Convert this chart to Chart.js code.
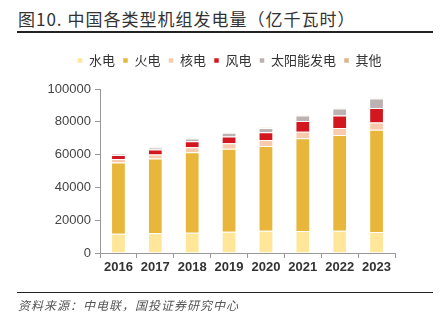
<!DOCTYPE html>
<html>
<head>
<meta charset="utf-8">
<script src="https://cdn.jsdelivr.net/npm/chart.js@4"></script>
<style>
  body { margin: 0; width: 441px; height: 325px; background: #fff; position: relative; overflow: hidden; font-family: "Noto Sans CJK SC", sans-serif; }
  #title { position: absolute; left: 18px; top: 6px; font-size: 17px; color: #333; letter-spacing: 1px; }
  #topline { position: absolute; left: 17px; top: 31px; width: 416px; height: 2px; background: #222; }
  #botline { position: absolute; left: 17px; top: 292px; width: 416px; height: 1px; background: #222; }
  #source { position: absolute; left: 18px; top: 296px; font-size: 12px; color: #555; font-style: italic; letter-spacing: 1px; }
  #wrap { position: absolute; left: 0; top: 0; width: 441px; height: 325px; }
</style>
</head>
<body>
<div id="title">图10. 中国各类型机组发电量（亿千瓦时）</div>
<div id="topline"></div>
<div id="wrap"><canvas id="chart" width="441" height="325"></canvas></div>
<div id="botline"></div>
<div id="source">资料来源：中电联，国投证券研究中心</div>
<script>
// 数据（亿千瓦时）
const years = ["2016", "2017", "2018", "2019", "2020", "2021", "2022", "2023"];
const hydro   = [11750, 12000, 12300, 13000, 13550, 13400, 13500, 12850];
const thermal = [43500, 45600, 49200, 50500, 51700, 56500, 58500, 62300];
const nuclear = [2130, 2480, 2950, 3480, 3660, 4080, 4180, 4350];
const wind    = [2410, 3050, 3660, 4060, 4670, 6560, 7630, 8860];
const solar   = [660, 1100, 1770, 2240, 2610, 3270, 4280, 5830];
const other   = [200, 200, 250, 250, 300, 300, 300, 350];
const yTicks  = [0, 20000, 40000, 60000, 80000, 100000];

// 图例整体右移、上移
const legendShift = {
  id: 'legendShift',
  afterLayout(chart) {
    const lg = chart.legend;
    lg.left += 32; lg.right += 32;
    lg.top -= 12; lg.bottom -= 12;
  }
};

document.addEventListener("DOMContentLoaded", function () {
  const ctx = document.getElementById('chart').getContext('2d');
  const edge = 'rgba(255,255,255,0.5)';
  function ds(label, data, color) {
    return { label: label, data: data, backgroundColor: color, borderColor: edge, borderWidth: 1,
             barPercentage: 0.8, categoryPercentage: 0.5 };
  }
  new Chart(ctx, {
    type: 'bar',
    data: {
      labels: years,
      datasets: [
        ds('水电', hydro, '#FFE699'),
        ds('火电', thermal, '#E8B63A'),
        ds('核电', nuclear, '#F8CBAD'),
        ds('风电', wind, '#D2181E'),
        ds('太阳能发电', solar, '#BCB2B2'),
        ds('其他', other, '#DDB38B')
      ]
    },
    plugins: [legendShift],
    options: {
      responsive: false,
      animation: false,
      layout: { padding: { top: 58, right: 46, left: 0, bottom: 0 } },
      plugins: {
        tooltip: { enabled: false },
        legend: {
          position: 'top',
          labels: {
            boxWidth: 5, boxHeight: 5, padding: 8,
            color: '#333',
            font: { family: '"Noto Sans CJK SC"', size: 13 }
          }
        }
      },
      scales: {
        x: {
          stacked: true,
          grid: { display: true, drawOnChartArea: false, drawTicks: true, tickLength: 5, color: '#999' },
          border: { color: '#999', width: 1 },
          ticks: { color: '#333', padding: 2, maxRotation: 0, font: { family: '"Liberation Sans"', size: 13, weight: 'bold' } },
          afterFit: function (s) { s.height = 72; }
        },
        y: {
          stacked: true,
          min: 0, max: 100000,
          afterBuildTicks: function (s) { s.ticks = yTicks.map(v => ({ value: v })); },
          grid: { display: true, drawOnChartArea: false, drawTicks: true, tickLength: 5, color: '#999' },
          border: { color: '#999', width: 1 },
          ticks: { color: '#444', padding: 4, font: { family: '"Liberation Sans"', size: 13 },
                   callback: function (v) { return String(v); } },
          afterFit: function (s) { s.width = 100; }
        }
      }
    }
  });
});
</script>
</body>
</html>
